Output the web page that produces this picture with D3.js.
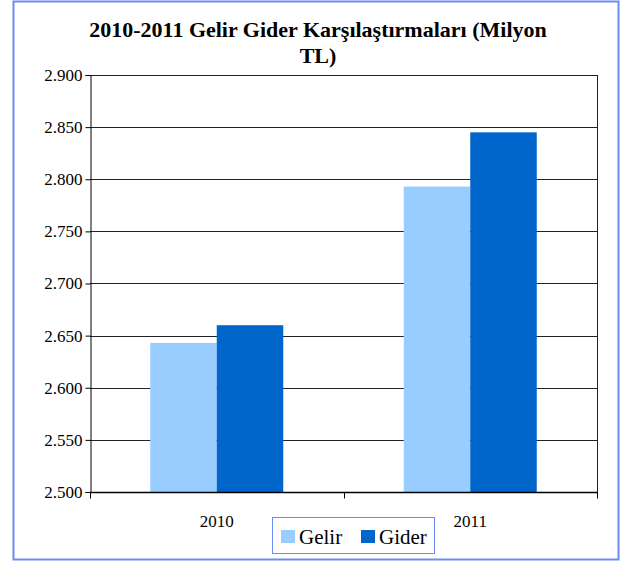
<!DOCTYPE html>
<html>
<head>
<meta charset="utf-8">
<script src="https://cdn.jsdelivr.net/npm/d3@7"></script>
<style>
  body { margin: 0; background: #fff; }
  svg text { font-family: 'Liberation Serif', 'Times New Roman', 'DejaVu Serif', serif; fill: #000; }
</style>
</head>
<body>
<div id="chart"></div>
<script>
const years = ['2010', '2011'];
const series = ['Gelir', 'Gider'];
const gelir = [2.643, 2.793];
const gider = [2.660, 2.845];
const yTicks = [2.5, 2.55, 2.6, 2.65, 2.7, 2.75, 2.8, 2.85, 2.9];
const colors = ['#99ccff', '#0066cc'];

const width = 628, height = 563;
const plot = { left: 90, right: 597, top: 75, bottom: 492 };
const serif = "'Liberation Serif', 'Times New Roman', serif";

const svg = d3.select('#chart').append('svg')
  .attr('width', width).attr('height', height)
  .attr('font-family', serif);

// outer frame
svg.append('rect')
  .attr('x', 13.5).attr('y', 1.5).attr('width', 605).attr('height', 558)
  .attr('fill', '#fff').attr('stroke', '#6a8cf6').attr('stroke-width', 2);

const x = d3.scaleBand().domain(years).range([plot.left, plot.right]);
const x1 = d3.scaleBand().domain(series).range([0, 133]);
const y = d3.scaleLinear().domain([2.5, 2.9]).range([plot.bottom, plot.top]);

const fmt = d3.format('.3f');

// gridlines
svg.append('g').selectAll('line')
  .data(yTicks)
  .enter().append('line')
    .attr('x1', plot.left).attr('x2', plot.right)
    .attr('y1', d => Math.round(y(d)) + 0.5).attr('y2', d => Math.round(y(d)) + 0.5)
    .attr('stroke', '#222').attr('stroke-width', 1);

// right border of plot area
svg.append('line')
  .attr('x1', plot.right + 0.5).attr('x2', plot.right + 0.5)
  .attr('y1', plot.top).attr('y2', plot.bottom)
  .attr('stroke', '#222');

const data = years.map((yr, i) => ({ year: yr, vals: [gelir[i], gider[i]] }));

const groups = svg.append('g').selectAll('g')
  .data(data)
  .enter().append('g')
    .attr('transform', d => `translate(${x(d.year) + (x.bandwidth() - 133) / 2}, 0)`);

groups.selectAll('rect')
  .data(d => d.vals.map((v, j) => ({ key: series[j], v, j })))
  .enter().append('rect')
    .attr('x', d => x1(d.key))
    .attr('width', x1.bandwidth())
    .attr('y', d => y(d.v))
    .attr('height', d => plot.bottom - y(d.v))
    .attr('fill', d => colors[d.j]);

// y axis
const yAxis = d3.axisLeft(y).tickValues(yTicks).tickSize(5).tickPadding(3).tickFormat(fmt);
const gy = svg.append('g').attr('transform', `translate(${plot.left + 0.5},0)`).call(yAxis)
  .attr('font-family', serif).attr('font-size', 17);
gy.select('.domain').attr('stroke', '#000');
gy.selectAll('.tick line').attr('stroke', '#000');
gy.selectAll('text').attr('fill', '#000').style('font-size', '17px');

// x axis
const gx = svg.append('g').attr('transform', `translate(0,${plot.bottom + 0.5})`);
gx.append('line').attr('x1', plot.left).attr('x2', plot.right + 1).attr('stroke', '#000').attr('stroke-width', 1.5);
gx.selectAll('.tk')
  .data([plot.left, plot.left + x.bandwidth(), plot.right])
  .enter().append('line')
    .attr('x1', d => Math.round(d) + 0.5).attr('x2', d => Math.round(d) + 0.5)
    .attr('y1', 0).attr('y2', 6).attr('stroke', '#000');
gx.selectAll('text')
  .data(years)
  .enter().append('text')
    .attr('x', d => x(d) + x.bandwidth() / 2)
    .attr('y', 34)
    .attr('text-anchor', 'middle')
    .style('font-size', '17px')
    .text(d => d);

// title
const title = svg.append('text')
  .attr('text-anchor', 'middle')
  .style('font-size', '22px').style('font-weight', 'bold');
title.append('tspan').attr('x', 318).attr('y', 37).text('2010-2011 Gelir Gider Karşılaştırmaları (Milyon');
title.append('tspan').attr('x', 318).attr('y', 63).text('TL)');

// legend
const lg = svg.append('g').attr('transform', 'translate(272,517)');
lg.append('rect').attr('x', 0.5).attr('y', 0.5).attr('width', 162).attr('height', 36)
  .attr('fill', '#fff').attr('stroke', '#6a8cf6').attr('stroke-width', 1);
const items = lg.selectAll('.item')
  .data(series)
  .enter().append('g')
    .attr('transform', (d, i) => `translate(${9 + i * 80},0)`);
items.append('rect').attr('x', 0).attr('y', 13).attr('width', 14).attr('height', 13)
  .attr('fill', (d, i) => colors[i]);
items.append('text').attr('x', 18).attr('y', 27)
  .style('font-size', '21px').text(d => d);
</script>
</body>
</html>
